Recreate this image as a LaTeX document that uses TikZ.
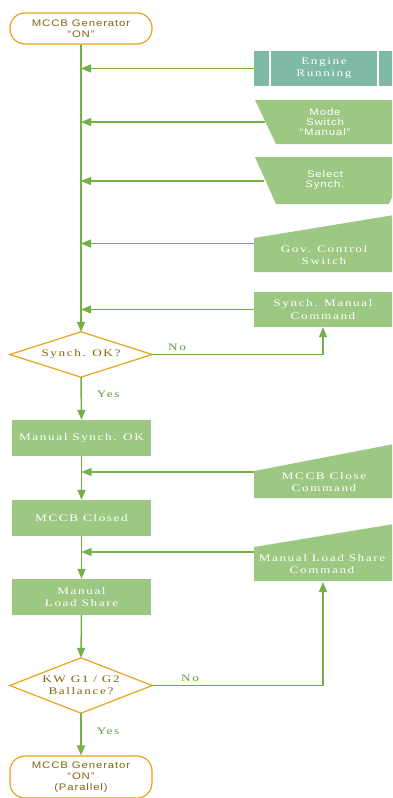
\documentclass[tikz,border=0pt]{standalone}
\usepackage{fontspec}
\usetikzlibrary{arrows.meta,shapes.geometric}
\setmainfont{Liberation Serif}
\newfontfamily\srf[LetterSpace=16,FakeStretch=1.32]{Liberation Serif}
\newfontfamily\sns[LetterSpace=9,FakeStretch=1.2]{Liberation Sans}
\definecolor{gfill}{HTML}{9DC883}
\definecolor{tealf}{HTML}{7FBAA9}
\definecolor{lineg}{HTML}{74B046}
\definecolor{orng}{HTML}{E6A41E}
\definecolor{brn}{HTML}{846414}
\definecolor{lblg}{HTML}{5E9A3A}
\tikzset{
  arr/.style={draw=lineg, line width=1.5pt, -{Triangle[length=10pt,width=8pt]}},
  sarr/.style={draw=lineg, line width=1.1pt, -{Triangle[length=10pt,width=8pt]}},
  box/.style={fill=gfill, text=white, font=\srf\fontsize{10}{12.5}\selectfont, align=center, inner sep=0pt, minimum width=139pt, minimum height=36pt},
  rtxt/.style={text=white, align=center, inner sep=0pt},
  srftxt/.style={font=\srf\fontsize{10}{12.5}\selectfont},
  snstxt/.style={font=\sns\fontsize{9.5}{10.3}\selectfont},
  term/.style={draw=orng, line width=1.2pt, fill=white, rounded corners=15pt, minimum width=142pt, align=center, inner sep=0pt, text=brn, font=\sns\fontsize{9.5}{10.8}\selectfont},
  dia/.style={draw=none, minimum width=142pt, inner sep=0pt, text=brn, align=center, font=\srf\fontsize{10}{12}\selectfont},
  diaout/.style={draw=orng, line width=1.2pt, fill=white, line join=miter},
  lbl/.style={text=lblg, font=\srf\fontsize{10}{12}\selectfont, inner sep=0pt}
}
\begin{document}
\begin{tikzpicture}[x=1pt,y=-1pt]
\useasboundingbox (0,0) rectangle (392,798);
\clip (0,0) rectangle (392,798);

% terminators
\node[term, minimum height=31pt] (top) at (81,28.5) {MCCB Generator\\“ON”};
\node[term, minimum height=42pt] (bot) at (81,777) {MCCB Generator\\“ON”\\(Parallel)};

% diamonds
\node[dia, minimum height=45pt] (d1) at (81,354.5) {};
\draw[diaout] (d1.west) -- (d1.north) -- (d1.east) -- (d1.south) -- cycle;
\node[dia] (d1t) at (d1.center) {Synch. OK?};
\node[dia, minimum height=55pt] (d2) at (81,685.5) {};
\draw[diaout] (d2.west) -- (d2.north) -- (d2.east) -- (d2.south) -- cycle;
\node[dia] (d2t) at (d2.center) {KW G1 / G2\\Ballance?};

% left boxes
\node[box] (msok) at (81.5,438) {Manual Synch. OK};
\node[box] (mccb) at (81.5,518) {MCCB Closed};
\node[box] (mls) at (81.5,597) {Manual\\Load Share};

% right shapes
% Engine Running (predefined process)
\fill[tealf] (254,51) rectangle (394,86);
\draw[white, line width=1.5pt] (270,51) -- (270,86) (378,51) -- (378,86);
\node[rtxt, srftxt, minimum width=140pt, minimum height=35pt] (eng) at (324,68.5) {Engine\\Running};

% Mode switch (manual operation)
\fill[gfill] (255,100) -- (413,100) -- (392,144) -- (276,144) -- cycle;
\node[rtxt, snstxt] (mode) at (325,122) {Mode\\Switch\\“Manual”};
\coordinate (modein) at (265,122);

% Select synch
\fill[gfill] (255,157) -- (410,157) -- (389,204) -- (276,204) -- cycle;
\node[rtxt, snstxt] (sel) at (325,180) {Select\\Synch.};
\coordinate (selin) at (264,181);

% Gov control switch (manual input)
\fill[gfill] (254,238) -- (394,215) -- (394,272) -- (254,272) -- cycle;
\node[rtxt, srftxt] (gov) at (324,255) {Gov. Control\\Switch};
\coordinate (govin) at (254,243.5);

% Synch manual command
\fill[gfill] (254,292) rectangle (394,327);
\node[rtxt, srftxt, minimum width=138pt, minimum height=35pt] (smc) at (323,309.5) {Synch. Manual\\Command};

% MCCB close command
\fill[gfill] (254,471) -- (394,444) -- (394,498) -- (254,498) -- cycle;
\node[rtxt, srftxt] (mcc) at (324,482) {MCCB Close\\Command};
\coordinate (mccin) at (254,472);

% Manual load share command
\fill[gfill] (254,547) -- (394,524) -- (394,581) -- (254,581) -- cycle;
\node[rtxt, srftxt] (mlc) at (322,564) {Manual Load Share\\Command};
\coordinate (mlcin) at (254,552);
\coordinate (mlcb) at (323,582);

% main line with inputs
\draw[arr] (top.south) -- (d1.north);
\draw[sarr] (eng.west) -- (eng.west -| top.south);
\draw[sarr] (modein) -- (modein -| top.south);
\draw[sarr] (selin) -- (selin -| top.south);
\draw[sarr] (govin) -- (govin -| top.south);
\draw[sarr] (smc.west) -- (smc.west -| top.south);

\draw[arr] (d1.south) -- node[lbl, pos=0.4, xshift=27pt] {Yes} (msok.north);
\draw[sarr] (d1.east) -- (d1.east -| smc.south) -- (smc.south);
\node[lbl] (no1) at (177,347) {No};

\draw[arr] (msok.south) -- (mccb.north);
\draw[sarr] (mccin) -- (mccin -| msok.south);
\draw[arr] (mccb.south) -- (mls.north);
\draw[sarr] (mlcin) -- (mlcin -| mccb.south);
\draw[arr] (mls.south) -- (d2.north);

\draw[sarr] (d2.east) -- (d2.east -| mlcb) -- (mlcb);
\node[lbl] (no2) at (190,678) {No};
\draw[arr] (d2.south) -- node[lbl, pos=0.42, xshift=27pt] {Yes} (bot.north);
\end{tikzpicture}
\end{document}
